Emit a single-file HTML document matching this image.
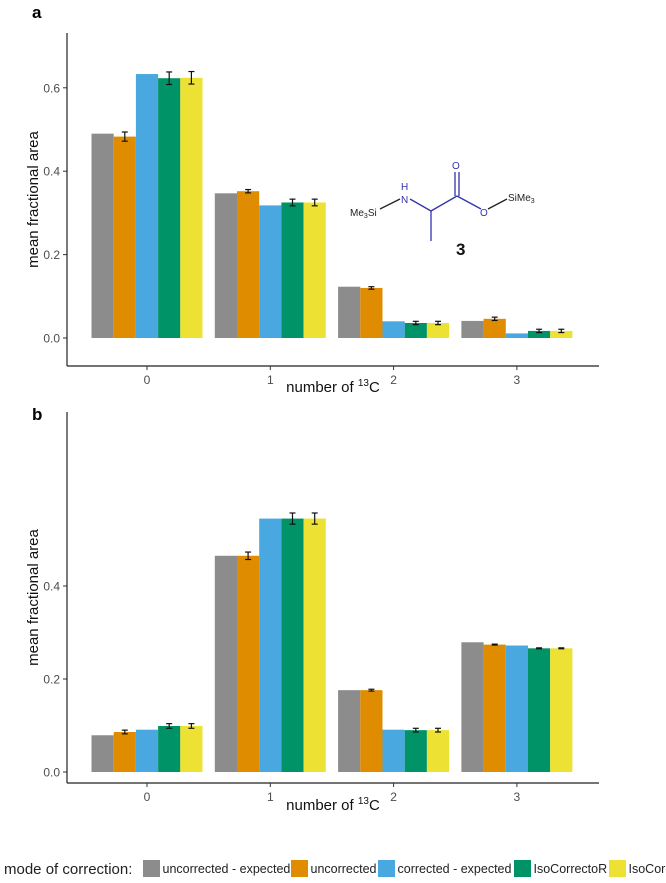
<!DOCTYPE html>
<html><head><meta charset="utf-8"><style>
body{margin:0;background:#fff;}
svg{display:block;font-family:"Liberation Sans",sans-serif;}
</style></head><body>
<svg id="fig" width="666" height="883" viewBox="0 0 666 883">
<text x="32" y="18" font-size="17" font-weight="bold">a</text>
<text x="32" y="420" font-size="17" font-weight="bold">b</text>
<g id="pa"></g>
<g id="pb"></g>
<g stroke-width="1.3" fill="none">
 <line x1="380" y1="209" x2="400" y2="199" stroke="#222"/>
 <line x1="410" y1="199" x2="431" y2="211" stroke="#3333aa"/>
 <line x1="431" y1="211" x2="431" y2="241" stroke="#3333aa"/>
 <line x1="431" y1="211" x2="457" y2="196" stroke="#3333aa"/>
 <line x1="455" y1="196" x2="455" y2="172" stroke="#3333aa"/>
 <line x1="459" y1="196" x2="459" y2="172" stroke="#3333aa"/>
 <line x1="457" y1="196" x2="481" y2="209" stroke="#3333aa"/>
 <line x1="488" y1="209" x2="507" y2="199" stroke="#222"/>
</g>
<g font-size="10">
 <text x="350" y="216" fill="#222">Me<tspan font-size="7" dy="2">3</tspan><tspan dy="-2">Si</tspan></text>
 <text x="401" y="190" fill="#3333aa">H</text>
 <text x="401" y="203" fill="#3333aa">N</text>
 <text x="452" y="169" fill="#3333aa">O</text>
 <text x="480" y="216" fill="#3333aa">O</text>
 <text x="508" y="201" fill="#222">SiMe<tspan font-size="7" dy="2">3</tspan></text>
 <text x="456" y="255" font-size="17" font-weight="bold" fill="#111">3</text>
</g>
<g id="legend">
 <text x="4" y="874" font-size="15" fill="#222">mode of correction:</text>
</g>
</svg>
<script>
const categories=["0","1","2","3"];
const seriesNames=["uncorrected - expected","uncorrected","corrected - expected","IsoCorrectoR","IsoCor"];
const colors=["#8c8c8c","#e08c00","#4aa8e0","#009368","#ede233"];
const aVals=[[0.49,0.347,0.123,0.041],[0.483,0.352,0.120,0.046],[0.633,0.318,0.040,0.011],[0.623,0.325,0.036,0.017],[0.624,0.325,0.036,0.017]];
const aErr=[[0,0,0,0],[0.011,0.004,0.003,0.004],[0,0,0,0],[0.015,0.008,0.004,0.004],[0.015,0.008,0.004,0.004]];
const aTicks=[0,0.2,0.4,0.6];
const bVals=[[0.079,0.465,0.176,0.279],[0.086,0.465,0.176,0.274],[0.091,0.545,0.091,0.272],[0.099,0.545,0.090,0.266],[0.099,0.545,0.090,0.266]];
const bErr=[[0,0,0,0],[0.004,0.008,0.002,0.001],[0,0,0,0],[0.005,0.012,0.004,0.001],[0.005,0.012,0.004,0.001]];
const bTicks=[0,0.2,0.4];
const NS="http://www.w3.org/2000/svg";
function mk(p,t,a){const e=document.createElementNS(NS,t);for(const k in a)e.setAttribute(k,a[k]);p.appendChild(e);return e;}
function panel(g,vals,errs,ticks,y0,pxPerUnit,top,axisY,xlabY,name){
 const yS=v=>y0-v*pxPerUnit;
 const xC=i=>147+i*123.3;
 const bw=22.2;
 ticks.forEach(t=>{
  const tx=mk(g,'text',{x:60,y:yS(t)+4.5,'font-size':12,fill:'#4d4d4d','text-anchor':'end'});tx.textContent=t.toFixed(1);
  
  
  mk(g,'line',{x1:63,x2:67,y1:yS(t),y2:yS(t),stroke:'#333'});
 });
 vals.forEach((s,si)=>s.forEach((v,ci)=>{
  const x=xC(ci)-2.5*bw+si*bw;
  const r=mk(g,'rect',{x:x,y:yS(v),width:bw,height:v*pxPerUnit,fill:colors[si]});
  
  
  const e=errs[si][ci];
  if(e>0){const cx=x+bw/2;
   mk(g,'line',{x1:cx,x2:cx,y1:yS(v+e),y2:yS(v-e),stroke:'#111','stroke-width':1.2});
   mk(g,'line',{x1:cx-3,x2:cx+3,y1:yS(v+e),y2:yS(v+e),stroke:'#111','stroke-width':1.2});
   mk(g,'line',{x1:cx-3,x2:cx+3,y1:yS(v-e),y2:yS(v-e),stroke:'#111','stroke-width':1.2});}
 }));
 mk(g,'line',{x1:67,x2:67,y1:top,y2:axisY,stroke:'#222','stroke-width':1.2});
 mk(g,'line',{x1:67,x2:599,y1:axisY,y2:axisY,stroke:'#222','stroke-width':1.2});
 categories.forEach((c,i)=>{
  mk(g,'line',{x1:xC(i),x2:xC(i),y1:axisY,y2:axisY+4,stroke:'#333'});
  const t=mk(g,'text',{x:xC(i),y:axisY+18,'font-size':12,fill:'#4d4d4d','text-anchor':'middle'});t.textContent=c;
  
  
 });
 const xl=mk(g,'text',{x:333,y:xlabY,'font-size':15,fill:'#111','text-anchor':'middle'});
 xl.innerHTML='number of  <tspan font-size="10" dy="-6">13</tspan><tspan dy="6">C</tspan>';
 
 
 const my=(top+axisY)/2;
 const yl=mk(g,'text',{x:0,y:0,'font-size':15,fill:'#111','text-anchor':'middle',transform:'translate(38,'+my+') rotate(-90)'});
 yl.textContent='mean fractional area';
 
 
}
panel(document.getElementById('pa'),aVals,aErr,aTicks,338,417,33,366,392,'panel-a');
panel(document.getElementById('pb'),bVals,bErr,bTicks,772,465,412,783,810,'panel-b');
const lg=document.getElementById('legend');
const sx=[143,291,378,514,609];
seriesNames.forEach((n,i)=>{
 const r=mk(lg,'rect',{x:sx[i],y:860,width:17,height:17,fill:colors[i]});
 
 
 const t=mk(lg,'text',{x:sx[i]+19.5,y:873,'font-size':12.5,fill:'#222'});t.textContent=n;
 
 
});
</script>
</body></html>
